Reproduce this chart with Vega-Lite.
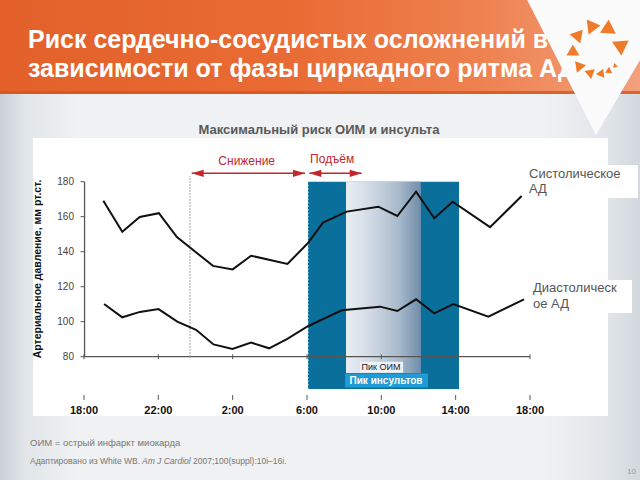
{
  "$schema": "https://vega.github.io/schema/vega-lite/v6.json",
  "width": 640,
  "height": 480,
  "autosize": {"type": "none"},
  "padding": 0,
  "background": "#ffffff",
  "config": {"view": {"stroke": null}, "text": {"font": "Liberation Sans"}},
  "datasets": {
    "rects": [
      {"x": -4.52, "x2": 29.92, "y": 9.54, "y2": 230.12, "g": "page"},
      {"x": -4.52, "x2": 29.92, "y": 230.12, "y2": 283.83, "g": "header"},
      {"x": -4.52, "x2": 29.92, "y": 230.12, "y2": 231.83, "g": "hdrline"},
      {"x": -2.744, "x2": 28.198, "y": 46.12, "y2": 204.97, "g": "white"},
      {"x": 23.462, "x2": 29.812, "y": 170.69, "y2": 189.54, "g": "white"},
      {"x": 23.892, "x2": 29.489, "y": 104.97, "y2": 123.83, "g": "white"},
      {"x": 12.054, "x2": 20.18, "y": 61.54, "y2": 180, "g": "band"},
      {"x": 14.10, "x2": 18.13, "y": 70.7, "y2": 180, "g": "grad"},
      {"x": 14.85, "x2": 17.17, "y": 70.85, "y2": 77.14, "g": "oim"},
      {"x": 14.05, "x2": 18.51, "y": 62.4, "y2": 70.4, "g": "stroke"}
    ],
    "vshape": [
      {"x": 23.85, "y": 283.83, "y2": 283.83},
      {"x": 27.55, "y": 283.83, "y2": 206.69},
      {"x": 29.92, "y": 283.83, "y2": 249.5}
    ],
    "logo": [
      {"x": 26.63, "y": 264.23, "pos": 139, "k": 7},
      {"x": 27.45, "y": 268.86, "pos": 97, "k": 8},
      {"x": 28.31, "y": 266.74, "pos": 57, "k": 9},
      {"x": 28.89, "y": 256.23, "pos": 4, "k": 10},
      {"x": 28.55, "y": 245.89, "pos": -43, "k": 1},
      {"x": 28.19, "y": 243.03, "pos": -63, "k": 2},
      {"x": 27.76, "y": 241.66, "pos": -83, "k": 3},
      {"x": 27.16, "y": 242.34, "pos": -110, "k": 4},
      {"x": 26.60, "y": 246.63, "pos": -141, "k": 5},
      {"x": 26.31, "y": 255.26, "pos": 180, "k": 6}
    ],
    "rules": [
      {"x": 0, "x2": 24, "y": 80, "y2": 80, "g": "axis"},
      {"x": 0.03, "x2": 0.03, "y": 80, "y2": 180, "g": "axis"},
      {"x": -0.188, "x2": 0.03, "y": 80, "y2": 80, "g": "tick"},
      {"x": -0.188, "x2": 0.03, "y": 100, "y2": 100, "g": "tick"},
      {"x": -0.188, "x2": 0.03, "y": 120, "y2": 120, "g": "tick"},
      {"x": -0.188, "x2": 0.03, "y": 140, "y2": 140, "g": "tick"},
      {"x": -0.188, "x2": 0.03, "y": 160, "y2": 160, "g": "tick"},
      {"x": -0.188, "x2": 0.03, "y": 180, "y2": 180, "g": "tick"},
      {"x": 0, "x2": 0, "y": 78.6, "y2": 81.4, "g": "tick"},
      {"x": 4, "x2": 4, "y": 78.6, "y2": 81.4, "g": "tick"},
      {"x": 8, "x2": 8, "y": 78.6, "y2": 81.4, "g": "tick"},
      {"x": 12, "x2": 12, "y": 78.6, "y2": 81.4, "g": "tick"},
      {"x": 16, "x2": 16, "y": 78.6, "y2": 81.4, "g": "tick"},
      {"x": 20, "x2": 20, "y": 78.6, "y2": 81.4, "g": "tick"},
      {"x": 24, "x2": 24, "y": 78.6, "y2": 81.4, "g": "tick"},
      {"x": 0, "x2": 0, "y": 55.3, "y2": 58.1, "g": "tick"},
      {"x": 4, "x2": 4, "y": 55.3, "y2": 58.1, "g": "tick"},
      {"x": 8, "x2": 8, "y": 55.3, "y2": 58.1, "g": "tick"},
      {"x": 12, "x2": 12, "y": 55.3, "y2": 58.1, "g": "tick"},
      {"x": 16, "x2": 16, "y": 55.3, "y2": 58.1, "g": "tick"},
      {"x": 20, "x2": 20, "y": 55.3, "y2": 58.1, "g": "tick"},
      {"x": 24, "x2": 24, "y": 55.3, "y2": 58.1, "g": "tick"},
      {"x": 5.704, "x2": 5.704, "y": 80, "y2": 183.26, "g": "dot"},
      {"x": 12.054, "x2": 12.054, "y": 61.54, "y2": 180, "g": "banddot"},
      {"x": 14.944, "x2": 14.944, "y": 77.14, "y2": 180, "g": "banddot"},
      {"x": 5.796, "x2": 11.893, "y": 184.8, "y2": 184.8, "g": "arrow"},
      {"x": 12.124, "x2": 14.944, "y": 184.8, "y2": 184.8, "g": "arrow"}
    ],
    "heads": [
      {"x": 5.796, "y": 184.8, "dir": "left"},
      {"x": 11.893, "y": 184.8, "dir": "right"},
      {"x": 12.124, "y": 184.8, "dir": "left"},
      {"x": 14.944, "y": 184.8, "dir": "right"}
    ],
    "bp": [
      {"series": "Систолическое АД", "x": 1.04, "y": 169.1},
      {"series": "Систолическое АД", "x": 2.06, "y": 151.4},
      {"series": "Систолическое АД", "x": 3.0, "y": 159.8},
      {"series": "Систолическое АД", "x": 4.03, "y": 162.0},
      {"series": "Систолическое АД", "x": 5.0, "y": 148.4},
      {"series": "Систолическое АД", "x": 6.94, "y": 131.9},
      {"series": "Систолическое АД", "x": 8.0, "y": 129.9},
      {"series": "Систолическое АД", "x": 8.99, "y": 137.7},
      {"series": "Систолическое АД", "x": 10.95, "y": 133.0},
      {"series": "Систолическое АД", "x": 12.04, "y": 144.8},
      {"series": "Систолическое АД", "x": 12.86, "y": 156.6},
      {"series": "Систолическое АД", "x": 14.14, "y": 162.9},
      {"series": "Систолическое АД", "x": 15.84, "y": 165.7},
      {"series": "Систолическое АД", "x": 16.86, "y": 160.4},
      {"series": "Систолическое АД", "x": 17.87, "y": 174.3},
      {"series": "Систолическое АД", "x": 18.85, "y": 159.1},
      {"series": "Систолическое АД", "x": 19.84, "y": 168.6},
      {"series": "Систолическое АД", "x": 21.85, "y": 154.0},
      {"series": "Систолическое АД", "x": 23.55, "y": 171.8},
      {"series": "Диастолическое АД", "x": 1.08, "y": 110.1},
      {"series": "Диастолическое АД", "x": 2.06, "y": 102.5},
      {"series": "Диастолическое АД", "x": 3.01, "y": 105.6},
      {"series": "Диастолическое АД", "x": 4.01, "y": 107.2},
      {"series": "Диастолическое АД", "x": 5.02, "y": 100.0},
      {"series": "Диастолическое АД", "x": 6.03, "y": 95.4},
      {"series": "Диастолическое АД", "x": 6.97, "y": 87.0},
      {"series": "Диастолическое АД", "x": 7.99, "y": 84.4},
      {"series": "Диастолическое АД", "x": 8.99, "y": 88.1},
      {"series": "Диастолическое АД", "x": 9.96, "y": 84.8},
      {"series": "Диастолическое АД", "x": 10.92, "y": 90.0},
      {"series": "Диастолическое АД", "x": 12.05, "y": 97.4},
      {"series": "Диастолическое АД", "x": 13.87, "y": 106.5},
      {"series": "Диастолическое АД", "x": 15.93, "y": 108.6},
      {"series": "Диастолическое АД", "x": 16.86, "y": 106.1},
      {"series": "Диастолическое АД", "x": 17.87, "y": 112.8},
      {"series": "Диастолическое АД", "x": 18.85, "y": 104.8},
      {"series": "Диастолическое АД", "x": 19.87, "y": 110.1},
      {"series": "Диастолическое АД", "x": 21.76, "y": 102.9},
      {"series": "Диастолическое АД", "x": 23.68, "y": 112.8}
    ],
    "texts": [
      {"x": -3.013, "y": 256.4, "t": "Риск сердечно-сосудистых осложнений в", "g": "title"},
      {"x": -3.013, "y": 239.83, "t": "зависимости от фазы циркадного ритма АД", "g": "title"},
      {"x": 12.646, "y": 209.54, "t": "Максимальный риск ОИМ и инсульта", "g": "head"},
      {"x": 8.755, "y": 192.0, "t": "Снижение", "g": "red"},
      {"x": 13.356, "y": 192.8, "t": "Подъём", "g": "red"},
      {"x": -0.538, "y": 80, "t": "80", "g": "ytick"},
      {"x": -0.538, "y": 100, "t": "100", "g": "ytick"},
      {"x": -0.538, "y": 120, "t": "120", "g": "ytick"},
      {"x": -0.538, "y": 140, "t": "140", "g": "ytick"},
      {"x": -0.538, "y": 160, "t": "160", "g": "ytick"},
      {"x": -0.538, "y": 180, "t": "180", "g": "ytick"},
      {"x": -2.475, "y": 130.1, "t": "Артериальное давление, мм рт.ст.", "g": "ytitle"},
      {"x": 0, "y": 48.97, "t": "18:00", "g": "xtick"},
      {"x": 4, "y": 48.97, "t": "22:00", "g": "xtick"},
      {"x": 8, "y": 48.97, "t": "2:00", "g": "xtick"},
      {"x": 12, "y": 48.97, "t": "6:00", "g": "xtick"},
      {"x": 16, "y": 48.97, "t": "10:00", "g": "xtick"},
      {"x": 20, "y": 48.97, "t": "14:00", "g": "xtick"},
      {"x": 24, "y": 48.97, "t": "18:00", "g": "xtick"},
      {"x": 23.947, "y": 184.4, "t": "Систолическое", "g": "label"},
      {"x": 23.947, "y": 175.66, "t": "АД", "g": "label"},
      {"x": 24.162, "y": 119.09, "t": "Диастолическ", "g": "label"},
      {"x": 24.162, "y": 110.12, "t": "ое АД", "g": "label"},
      {"x": 15.982, "y": 74.1, "t": "Пик ОИМ", "g": "oim"},
      {"x": 16.251, "y": 66.23, "t": "Пик инсультов", "g": "stroke"},
      {"x": -2.906, "y": 30.5, "t": "ОИМ = острый инфаркт миокарда", "g": "foot"},
      {"x": -2.906, "y": 20.4, "t": "Адаптировано из White WB.", "g": "foot2"},
      {"x": 3.121, "y": 20.4, "t": "Am J Cardiol", "g": "footi"},
      {"x": 5.865, "y": 20.4, "t": "2007;100(suppl):10i–16i.", "g": "foot2"},
      {"x": 29.704, "y": 14.28, "t": "10", "g": "page"}
    ]
  },
  "encoding": {
    "x": {"field": "x", "type": "quantitative", "scale": {"domain": [-4.52, 29.92], "nice": false, "zero": false}, "axis": null},
    "y": {"field": "y", "type": "quantitative", "scale": {"domain": [9.54, 283.83], "nice": false, "zero": false}, "axis": null}
  },
  "layer": [
    {"data": {"name": "rects"}, "transform": [{"filter": "datum.g === 'page'"}],
     "mark": {"type": "rect", "color": {"gradient": "linear", "x1": 0, "y1": 0, "x2": 1, "y2": 0, "stops": [{"offset": 0, "color": "#c9d0d6"}, {"offset": 0.04, "color": "#e2e6e9"}, {"offset": 0.12, "color": "#eff1f2"}, {"offset": 0.85, "color": "#f0f1f2"}, {"offset": 0.95, "color": "#e1e5e9"}, {"offset": 1, "color": "#d2d8dd"}]}},
     "encoding": {"x2": {"field": "x2"}, "y2": {"field": "y2"}}},
    {"data": {"name": "rects"}, "transform": [{"filter": "datum.g === 'header'"}],
     "mark": {"type": "rect", "color": {"gradient": "linear", "x1": 0, "y1": 0, "x2": 1, "y2": 0, "stops": [{"offset": 0, "color": "#e3602a"}, {"offset": 0.45, "color": "#e96b33"}, {"offset": 0.75, "color": "#ee8150"}, {"offset": 1, "color": "#f3a07c"}]}},
     "encoding": {"x2": {"field": "x2"}, "y2": {"field": "y2"}}},
    {"data": {"name": "rects"}, "transform": [{"filter": "datum.g === 'hdrline'"}],
     "mark": {"type": "rect", "color": "#d5561d", "opacity": 0.8},
     "encoding": {"x2": {"field": "x2"}, "y2": {"field": "y2"}}},
    {"data": {"name": "texts"}, "transform": [{"filter": "datum.g === 'title'"}],
     "mark": {"type": "text", "align": "left", "baseline": "alphabetic", "fontSize": 25, "fontWeight": "bold", "color": "#ffffff"},
     "encoding": {"text": {"field": "t"}}},
    {"data": {"name": "vshape"},
     "mark": {"type": "area", "orient": "vertical", "color": "#fbfbfb"},
     "encoding": {"y2": {"field": "y2"}}},
    {"data": {"name": "logo"},
     "mark": {"type": "point", "shape": "triangle-up", "filled": true, "color": "#ef7b2a", "opacity": 1},
     "encoding": {
       "size": {"field": "k", "type": "quantitative", "scale": {"domain": [1, 10], "range": [25, 280]}, "legend": null},
       "angle": {"field": "pos", "type": "quantitative", "scale": {"domain": [-180, 180], "range": [360, 0]}}
     }},
    {"data": {"name": "rects"}, "transform": [{"filter": "datum.g === 'white'"}],
     "mark": {"type": "rect", "color": "#ffffff"},
     "encoding": {"x2": {"field": "x2"}, "y2": {"field": "y2"}}},
    {"data": {"name": "rects"}, "transform": [{"filter": "datum.g === 'band'"}],
     "mark": {"type": "rect", "color": "#0b6f9c"},
     "encoding": {"x2": {"field": "x2"}, "y2": {"field": "y2"}}},
    {"data": {"name": "rects"}, "transform": [{"filter": "datum.g === 'grad'"}],
     "mark": {"type": "rect", "color": {"gradient": "linear", "x1": 0, "y1": 0, "x2": 1, "y2": 0, "stops": [{"offset": 0, "color": "#e9eef3"}, {"offset": 0.3, "color": "#d3dce6"}, {"offset": 0.7, "color": "#a9bacb"}, {"offset": 1, "color": "#6f8daa"}]}},
     "encoding": {"x2": {"field": "x2"}, "y2": {"field": "y2"}}},
    {"data": {"name": "rules"}, "transform": [{"filter": "datum.g === 'banddot'"}],
     "mark": {"type": "rule", "color": "#d8eef6", "strokeWidth": 1, "strokeDash": [1.5, 2]},
     "encoding": {"x2": {"field": "x2"}, "y2": {"field": "y2"}}},
    {"data": {"name": "rects"}, "transform": [{"filter": "datum.g === 'oim'"}],
     "mark": {"type": "rect", "color": "#eef1f5"},
     "encoding": {"x2": {"field": "x2"}, "y2": {"field": "y2"}}},
    {"data": {"name": "rects"}, "transform": [{"filter": "datum.g === 'stroke'"}],
     "mark": {"type": "rect", "color": "#1f9bd5"},
     "encoding": {"x2": {"field": "x2"}, "y2": {"field": "y2"}}},
    {"data": {"name": "texts"}, "transform": [{"filter": "datum.g === 'oim'"}],
     "mark": {"type": "text", "align": "center", "baseline": "middle", "fontSize": 9, "color": "#222222"},
     "encoding": {"text": {"field": "t"}}},
    {"data": {"name": "texts"}, "transform": [{"filter": "datum.g === 'stroke'"}],
     "mark": {"type": "text", "align": "center", "baseline": "middle", "fontSize": 10, "fontWeight": "bold", "color": "#ffffff"},
     "encoding": {"text": {"field": "t"}}},
    {"data": {"name": "rules"}, "transform": [{"filter": "datum.g === 'axis'"}],
     "mark": {"type": "rule", "color": "#555555", "strokeWidth": 1.3},
     "encoding": {"x2": {"field": "x2"}, "y2": {"field": "y2"}}},
    {"data": {"name": "rules"}, "transform": [{"filter": "datum.g === 'tick'"}],
     "mark": {"type": "rule", "color": "#555555", "strokeWidth": 1},
     "encoding": {"x2": {"field": "x2"}, "y2": {"field": "y2"}}},
    {"data": {"name": "rules"}, "transform": [{"filter": "datum.g === 'dot'"}],
     "mark": {"type": "rule", "color": "#8a8a8a", "strokeWidth": 1, "strokeDash": [1.5, 1.5]},
     "encoding": {"x2": {"field": "x2"}, "y2": {"field": "y2"}}},
    {"data": {"name": "rules"}, "transform": [{"filter": "datum.g === 'arrow'"}],
     "mark": {"type": "rule", "color": "#c1272d", "strokeWidth": 1.5},
     "encoding": {"x2": {"field": "x2"}, "y2": {"field": "y2"}}},
    {"data": {"name": "heads"}, "transform": [{"filter": "datum.dir === 'left'"}],
     "mark": {"type": "point", "shape": "M 2 -0.6 L 0 0 L 2 0.6 Z", "filled": true, "color": "#c1272d", "opacity": 1, "size": 144}},
    {"data": {"name": "heads"}, "transform": [{"filter": "datum.dir === 'right'"}],
     "mark": {"type": "point", "shape": "M -2 -0.6 L 0 0 L -2 0.6 Z", "filled": true, "color": "#c1272d", "opacity": 1, "size": 144}},
    {"data": {"name": "bp"},
     "mark": {"type": "line", "color": "#111111", "strokeWidth": 2},
     "encoding": {"detail": {"field": "series"}}},
    {"data": {"name": "texts"}, "transform": [{"filter": "datum.g === 'head'"}],
     "mark": {"type": "text", "align": "center", "baseline": "middle", "fontSize": 13, "fontWeight": "bold", "color": "#595959"},
     "encoding": {"text": {"field": "t"}}},
    {"data": {"name": "texts"}, "transform": [{"filter": "datum.g === 'red'"}],
     "mark": {"type": "text", "align": "center", "baseline": "middle", "fontSize": 12, "color": "#c1272d"},
     "encoding": {"text": {"field": "t"}}},
    {"data": {"name": "texts"}, "transform": [{"filter": "datum.g === 'ytick'"}],
     "mark": {"type": "text", "align": "right", "baseline": "middle", "fontSize": 10, "color": "#444444"},
     "encoding": {"text": {"field": "t"}}},
    {"data": {"name": "texts"}, "transform": [{"filter": "datum.g === 'ytitle'"}],
     "mark": {"type": "text", "align": "center", "baseline": "middle", "angle": 270, "fontSize": 10.5, "fontWeight": "bold", "color": "#111111"},
     "encoding": {"text": {"field": "t"}}},
    {"data": {"name": "texts"}, "transform": [{"filter": "datum.g === 'xtick'"}],
     "mark": {"type": "text", "align": "center", "baseline": "middle", "fontSize": 11, "fontWeight": "bold", "color": "#111111"},
     "encoding": {"text": {"field": "t"}}},
    {"data": {"name": "texts"}, "transform": [{"filter": "datum.g === 'label'"}],
     "mark": {"type": "text", "align": "left", "baseline": "middle", "fontSize": 13, "color": "#555555"},
     "encoding": {"text": {"field": "t"}}},
    {"data": {"name": "texts"}, "transform": [{"filter": "datum.g === 'foot'"}],
     "mark": {"type": "text", "align": "left", "baseline": "middle", "fontSize": 9.5, "color": "#777777"},
     "encoding": {"text": {"field": "t"}}},
    {"data": {"name": "texts"}, "transform": [{"filter": "datum.g === 'foot2'"}],
     "mark": {"type": "text", "align": "left", "baseline": "middle", "fontSize": 8.5, "color": "#777777"},
     "encoding": {"text": {"field": "t"}}},
    {"data": {"name": "texts"}, "transform": [{"filter": "datum.g === 'footi'"}],
     "mark": {"type": "text", "align": "left", "baseline": "middle", "fontSize": 8.5, "fontStyle": "italic", "color": "#777777"},
     "encoding": {"text": {"field": "t"}}},
    {"data": {"name": "texts"}, "transform": [{"filter": "datum.g === 'page'"}],
     "mark": {"type": "text", "align": "right", "baseline": "middle", "fontSize": 8, "color": "#999999"},
     "encoding": {"text": {"field": "t"}}}
  ]
}
